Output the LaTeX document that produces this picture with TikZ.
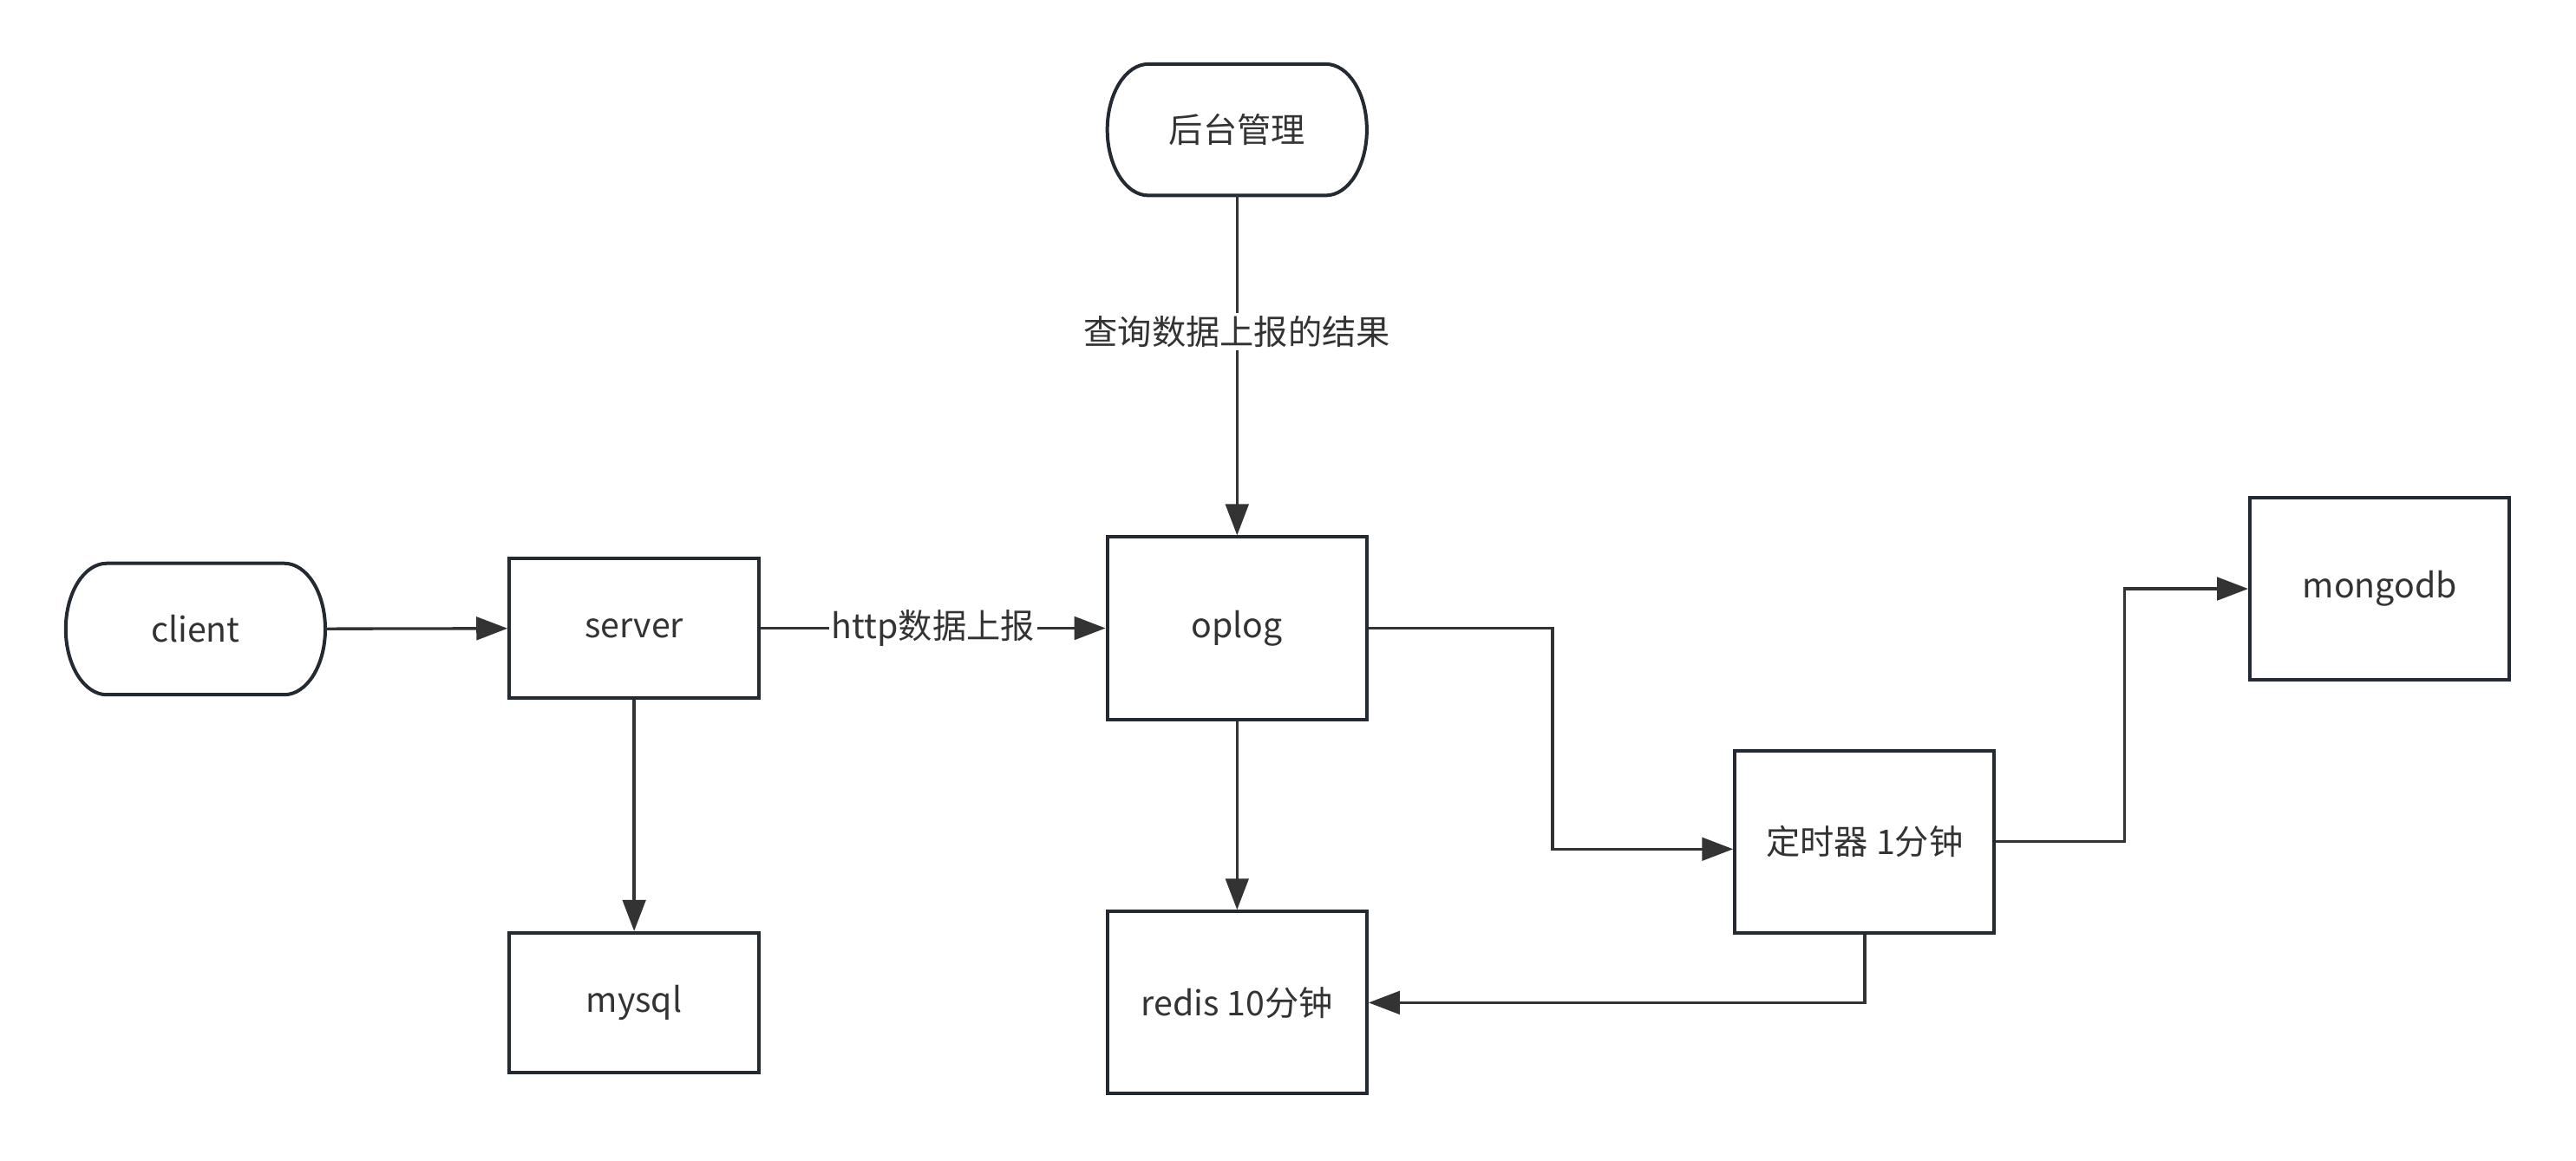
\documentclass[tikz,border=0pt]{standalone}
\usepackage{fontspec}
\setmainfont{Noto Sans CJK SC}
\usetikzlibrary{arrows.meta}

\definecolor{linegray}{HTML}{333333}
\definecolor{boxdark}{HTML}{232A31}

\tikzset{%
        every box/.style={
            rectangle,
            draw=boxdark,
            line width=1.2pt,
            fill=white,
            minimum width=3.16cm,
            minimum height=2.22cm,
            inner sep=0pt,
            text=linegray,
            font=\fontsize{11.8}{14}\selectfont
        },
        box small/.style={
            minimum width=3.04cm,
            minimum height=1.7cm
        },
        box term/.style={
            draw=none,
            fill=none,
            minimum height=1.6cm,
            outer sep=0pt
        },
        link/.style={
            draw=linegray,
            line width=1pt,
            -{Triangle[length=0.38cm, width=0.28cm]}
        },
        link label/.style={
            fill=white,
            text=linegray,
            inner sep=1pt,
            font=\fontsize{11.8}{14}\selectfont
        },
    }

\begin{document}
\begin{tikzpicture}[x=0.02cm, y=-0.02cm]

        \useasboundingbox (0,0) rectangle (1568,706.4);

        % rounded terminators
        \node [every box, box term] (admin) at (753,79) {后台管理};
        \node [every box, box term] (client) at (119,383) {client};

        \foreach \n in {admin, client}
        \draw [draw=boxdark, line width=1.2pt]
            ([xshift=0.5cm]\n.north west) -- ([xshift=-0.5cm]\n.north east)
            arc [start angle=90, end angle=-90, x radius=0.5cm, y radius=0.8cm]
            -- ([xshift=0.5cm]\n.south west)
            arc [start angle=270, end angle=90, x radius=0.5cm, y radius=0.8cm]
            -- cycle;

        % plain boxes
        \foreach \n/\px/\py/\t in {server/386/382.5/server, mysql/386/610.5/mysql}
        \node [every box, box small] (\n) at (\px,\py) {\t};

        \foreach \n/\px/\py/\t in {oplog/753/382.5/oplog, redis/753/610.5/redis 10分钟,
                                   timer/1135/512.5/定时器 1分钟, mongo/1448.5/358.5/mongodb}
        \node [every box] (\n) at (\px,\py) {\t};

        % connectors
        \draw [link] (client) -- (server);
        \draw [link] (server) -- (oplog)
            node [link label, midway] {http数据上报};
        \draw [link] (admin) -- (oplog)
            node [link label, pos=0.4] {查询数据上报的结果};
        \draw [link] (server) -- (mysql);
        \draw [link] (oplog) -- (redis);
        \draw [link] (oplog.east) -- ++(112,0) |- ([yshift=-0.09cm]timer.west);
        \draw [link] (timer.east) -- ++(78,0) |- (mongo.west);
        \draw [link] (timer.south) |- (redis.east);

    \end{tikzpicture}
\end{document}
